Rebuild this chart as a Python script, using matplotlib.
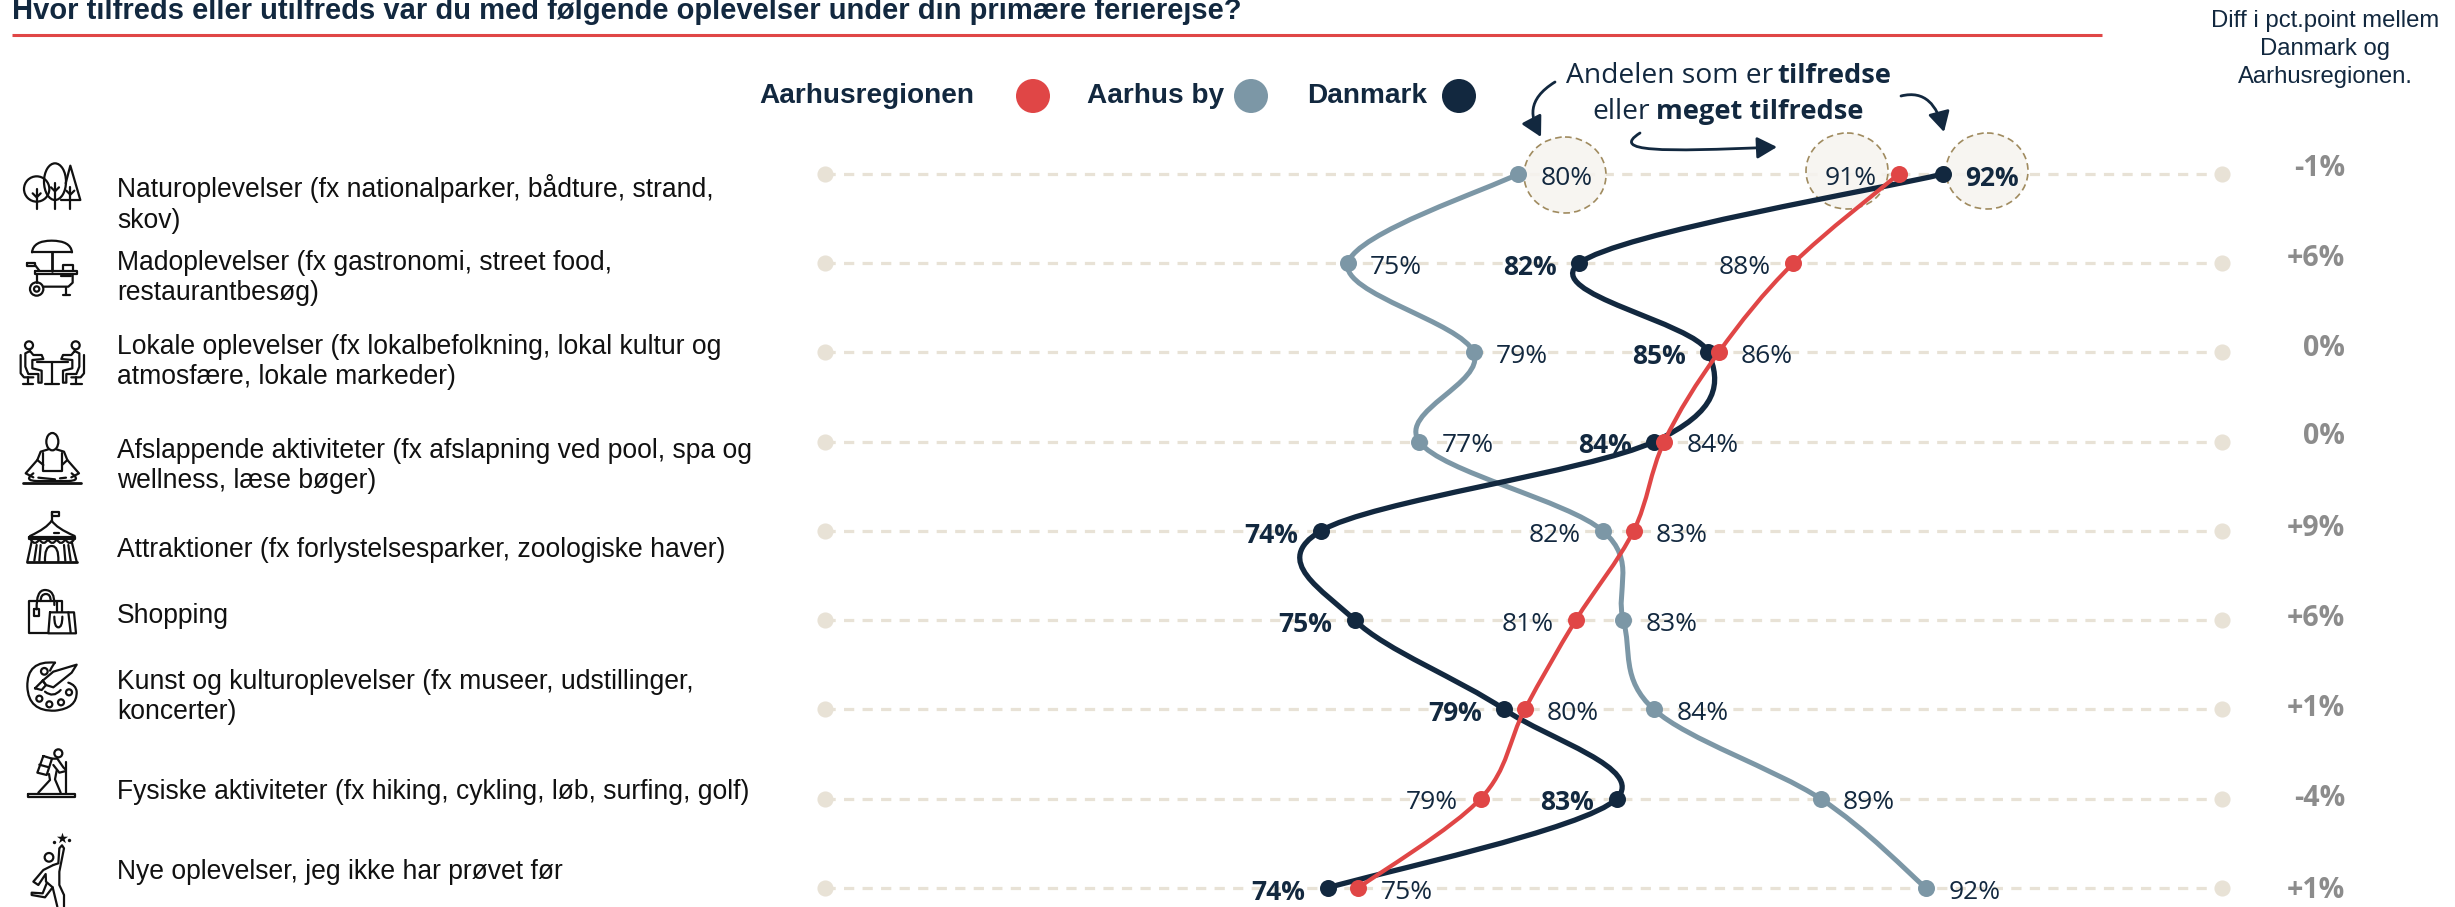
import numpy as np
import matplotlib
matplotlib.use("Agg")
import matplotlib.pyplot as plt
from matplotlib.path import Path
from matplotlib.patches import PathPatch, Ellipse, Circle, FancyArrowPatch

# -------- data --------
categories = [
    "Naturoplevelser (fx nationalparker, bådture, strand,\nskov)",
    "Madoplevelser (fx gastronomi, street food,\nrestaurantbesøg)",
    "Lokale oplevelser (fx lokalbefolkning, lokal kultur og\natmosfære, lokale markeder)",
    "Afslappende aktiviteter (fx afslapning ved pool, spa og\nwellness, læse bøger)",
    "Attraktioner (fx forlystelsesparker, zoologiske haver)",
    "Shopping",
    "Kunst og kulturoplevelser (fx museer, udstillinger,\nkoncerter)",
    "Fysiske aktiviteter (fx hiking, cykling, løb, surfing, golf)",
    "Nye oplevelser, jeg ikke har prøvet før",
]
# plotted positions, printed labels are the rounded ones in the chart
aarhus_by = [80.0, 75.0, 78.7, 77.1, 82.5, 83.1, 84.0, 88.9, 92.0]
danmark = [92.5, 81.8, 85.6, 84.0, 74.2, 75.2, 79.6, 82.9, 74.4]
region = [91.2, 88.1, 85.9, 84.3, 83.4, 81.7, 80.2, 78.9, 75.3]
aarhus_by_lab = [80, 75, 79, 77, 82, 83, 84, 89, 92]
danmark_lab = [92, 82, 85, 84, 74, 75, 79, 83, 74]
region_lab = [91, 88, 86, 84, 83, 81, 80, 79, 75]
diff_lab = ["-1%", "+6%", "0%", "0%", "+9%", "+6%", "+1%", "-4%", "+1%"]

NAVY = "#12283F"
RED = "#E04646"
BLUE = "#7C97A6"
TRACK = "#E8E2D6"
GREY = "#8C8C8C"
SANS = "Liberation Sans"
LAB = "Open Sans"

fig = plt.figure(figsize=(24.55, 9.07), dpi=100)

# overlay in pixels for the furniture and the icons
px = fig.add_axes([0, 0, 1, 1], facecolor="none")
px.set_xlim(0, 2455)
px.set_ylim(907, 0)
px.axis("off")

# chart axes: x in percent, y in row number
ax = fig.add_axes([0, 0, 1, 1], facecolor="none")
ax.set_xlim(35.356, 107.56)
ax.set_ylim(8.213, -1.9496)
ax.axis("off")


def smooth_path(xs, ys, k=0.17):
    # catmull-rom style bezier through the points
    verts = [(xs[0], ys[0])]
    codes = [Path.MOVETO]
    n = len(xs)
    for i in range(n - 1):
        a, d = max(i - 1, 0), min(i + 2, n - 1)
        verts.append((xs[i] + (xs[i + 1] - xs[a]) * k, ys[i] + (ys[i + 1] - ys[a]) * k))
        verts.append((xs[i + 1] - (xs[d] - xs[i]) * k, ys[i + 1] - (ys[d] - ys[i]) * k))
        verts.append((xs[i + 1], ys[i + 1]))
        codes += [Path.CURVE4] * 3
    return Path(verts, codes)


rows = np.arange(len(categories))

# tracks
for r in rows:
    ax.plot([59.62, 100.71], [r, r], color=TRACK, lw=2.3, dashes=(3.2, 2.6), zorder=1)
    ax.scatter([59.62, 100.71], [r, r], s=135, color=TRACK, linewidths=0, zorder=1)

# highlight circles behind the first row labels
for cx, cy in [(1565, 175), (1847, 171), (1987, 171)]:
    ax.add_patch(Ellipse((cx, cy), 82, 76, facecolor=(0.965, 0.957, 0.94, 0.88), edgecolor="#A08B5F",
                         lw=1.2, linestyle=(0, (4, 2.5)), zorder=2, transform=px.transData))

sides_by = [1, 1, 1, 1, -1, 1, 1, 1, 1]
sides_dk = [1, -1, -1, -1, -1, -1, -1, -1, -1]
sides_reg = [-1, -1, 1, 1, 1, -1, 1, -1, 1]

for vals, labs, sides, col, lw, weight, z in [
    (aarhus_by, aarhus_by_lab, sides_by, BLUE, 3.6, "normal", 5),
    (danmark, danmark_lab, sides_dk, NAVY, 3.8, "bold", 6),
    (region, region_lab, sides_reg, RED, 3.0, "normal", 7),
]:
    ax.add_patch(PathPatch(smooth_path(vals, rows), facecolor="none", edgecolor=col, lw=lw, zorder=z))
    ax.scatter(vals, rows, s=150, color=col, linewidths=0, zorder=z + 0.5)
    for v, r, lab, s in zip(vals, rows, labs, sides):
        ax.annotate(f"{lab}%", (v, r), xytext=(s * 16, -3), textcoords="offset points",
                    ha="left" if s > 0 else "right", va="center", fontsize=19, family=LAB,
                    fontweight=weight, color=NAVY, zorder=10)

# row texts
text_y = [204, 278, 362, 466, 550, 616, 697, 792, 872]
for y, lab in zip(text_y, categories):
    px.text(117, y, lab, ha="left", va="center", fontsize=19.1, family=SANS, color="#111111",
            linespacing=1.23)

# diff column
diff_y = [168, 259, 348, 437, 528, 619, 708, 799, 890]
for y, lab in zip(diff_y, diff_lab):
    px.text(2345, y, lab, ha="right", va="center", fontsize=20.5, family=LAB, fontweight="bold", color=GREY)

# title and rule
px.text(12, 19, "Hvor tilfreds eller utilfreds var du med følgende oplevelser under din primære ferierejse?",
        ha="left", va="baseline", fontsize=21, family=SANS, fontweight="bold", color=NAVY)
px.plot([12, 2102], [35, 35], color=RED, lw=2.2, solid_capstyle="butt")

px.text(2325, 49, "Diff i pct.point mellem\nDanmark og\nAarhusregionen.", ha="center", va="center",
        fontsize=17.2, family=SANS, color=NAVY, linespacing=1.34)

# legend
for x0, lab, cx, col in [(759, "Aarhusregionen", 1033, RED), (1087, "Aarhus by", 1251, BLUE), (1307, "Danmark", 1459, NAVY)]:
    px.text(x0, 96, lab, ha="left", va="center", fontsize=20.2, family=SANS, fontweight="bold", color=NAVY)
    px.add_patch(Circle((cx, 96), 17, color=col, lw=0))

# callout text
px.text(1773, 76, "Andelen som er", ha="right", va="center", fontsize=20.3, family=LAB, color=NAVY)
px.text(1777, 76, "tilfredse", ha="left", va="center", fontsize=19.6, family=LAB, fontweight="bold", color=NAVY)
px.text(1650, 112, "eller", ha="right", va="center", fontsize=20.3, family=LAB, color=NAVY)
px.text(1656, 112, "meget tilfredse", ha="left", va="center", fontsize=19.6, family=LAB, fontweight="bold", color=NAVY)

# callout arrows
arrows = [
    Path([(1555, 82), (1526, 100), (1531, 118), (1541, 137)], [Path.MOVETO, Path.CURVE4, Path.CURVE4, Path.CURVE4]),
    Path([(1640, 133), (1610, 152), (1660, 152), (1777, 147)], [Path.MOVETO, Path.CURVE4, Path.CURVE4, Path.CURVE4]),
    Path([(1901, 96), (1925, 90), (1937, 105), (1944, 132)], [Path.MOVETO, Path.CURVE4, Path.CURVE4, Path.CURVE4]),
]
for p in arrows:
    px.add_patch(FancyArrowPatch(path=p, arrowstyle="-|>,head_length=0.55,head_width=0.3", mutation_scale=22,
                                 color=NAVY, lw=2, shrinkA=0, shrinkB=0, zorder=8))


# -------- icons, coordinates as crop pixels (3x) with their crop origin --------
def line(oy, pts, closed=False, lw=1.6):
    pts = np.array(pts, float)
    x, y = pts[:, 0] / 3, oy + pts[:, 1] / 3
    if closed:
        x, y = np.r_[x, x[0]], np.r_[y, y[0]]
    px.plot(x, y, color="#111111", lw=lw, solid_capstyle="round", solid_joinstyle="round")


def ring(oy, cx, cy, rx, ry=None, lw=1.6):
    ry = rx if ry is None else ry
    px.add_patch(Ellipse((cx / 3, oy + cy / 3), 2 * rx / 3, 2 * ry / 3, fill=False, edgecolor="#111111", lw=lw))


def curve(oy, pts, lw=1.6):
    # quadratic segments: start, ctrl, end, ctrl, end ...
    pts = [(x / 3, oy + y / 3) for x, y in pts]
    codes = [Path.MOVETO] + [Path.CURVE3] * (len(pts) - 1)
    px.add_patch(PathPatch(Path(pts, codes), fill=False, edgecolor="#111111", lw=lw, capstyle="round"))


# trees
oy = 150
ring(oy, 110, 117, 38)
ring(oy, 165, 95, 33, 55)
line(oy, [(197, 100), (211, 47), (241, 150), (183, 150)])
for sx, t, b in [(110, 118, 178), (165, 100, 178), (211, 110, 178)]:
    line(oy, [(sx, t), (sx, b)])
    line(oy, [(sx - 12, t + 12), (sx, t + 24), (sx + 12, t + 12)])
# cart
curve(oy, [(96, 307), (100, 272), (155, 272), (212, 272), (216, 307)])
line(oy, [(96, 307), (216, 307)])
line(oy, [(155, 307), (155, 362)], lw=2.0)
line(oy, [(105, 362), (230, 362), (230, 372), (105, 372)], closed=True)
line(oy, [(190, 362), (190, 344), (220, 344), (220, 362)])
line(oy, [(82, 340), (105, 340), (105, 348), (82, 348)], closed=True)
line(oy, [(105, 345), (118, 362)])
line(oy, [(112, 372), (112, 398)])
line(oy, [(130, 410), (205, 410), (218, 398), (218, 372)])
ring(oy, 110, 417, 20)
ring(oy, 110, 417, 8)
line(oy, [(198, 410), (198, 435)])
line(oy, [(188, 435), (210, 435)])
line(oy, [(182, 378), (212, 378)])
# people at table
ring(oy, 87, 586, 12)
ring(oy, 227, 586, 12)
line(oy, [(110, 635), (205, 635)])
line(oy, [(157, 635), (157, 700)])
line(oy, [(135, 702), (178, 702)])
for m in (False, True):
    f = (lambda x: 314 - x) if m else (lambda x: x)
    line(oy, [(f(x), y) for x, y in [(90, 603), (76, 610), (76, 650), (85, 672), (115, 672), (115, 698), (125, 698),
                                     (125, 662), (97, 655), (97, 630), (130, 627), (125, 615), (100, 615), (90, 603)]])
    line(oy, [(f(x), y) for x, y in [(62, 615), (62, 670), (72, 682), (100, 682)]])
    line(oy, [(f(85), 682), (f(85), 702)])
    line(oy, [(f(68), 702), (f(100), 702)])
# meditation
oy = 410
ring(oy, 157, 95, 18, 26)
line(oy, [(145, 118), (122, 125), (112, 150), (77, 190), (100, 202)])
line(oy, [(169, 118), (192, 125), (202, 150), (237, 190), (214, 202)])
line(oy, [(130, 130), (130, 182), (186, 182), (186, 130)])
line(oy, [(112, 150), (130, 165)])
line(oy, [(202, 150), (186, 165)])
curve(oy, [(100, 190), (70, 212), (110, 213), (170, 213), (205, 213), (245, 212), (215, 190)])
line(oy, [(70, 218), (243, 218)], lw=2)
line(oy, [(115, 203), (165, 208)])
line(oy, [(180, 205), (198, 203)])
# tent
line(oy, [(155, 305), (155, 332)])
line(oy, [(155, 305), (176, 305), (176, 318), (155, 318)], closed=True)
curve(oy, [(90, 378), (140, 355), (155, 332), (170, 355), (224, 378)])
line(oy, [(88, 380), (225, 380), (225, 388), (88, 388)], closed=True)
for x0 in (92, 118, 144, 170, 196):
    curve(oy, [(x0, 388), (x0 + 13, 410), (x0 + 26, 388)])
line(oy, [(95, 395), (82, 455)])
line(oy, [(215, 395), (230, 455)])
line(oy, [(82, 456), (232, 456)], lw=2)
curve(oy, [(135, 455), (133, 408), (155, 408), (177, 408), (175, 455)])
line(oy, [(110, 405), (103, 452)])
line(oy, [(122, 405), (118, 452)])
line(oy, [(192, 405), (196, 452)])
line(oy, [(205, 405), (212, 452)])
line(oy, [(162, 369), (178, 369)])
# bags
line(oy, [(145, 670), (88, 670), (88, 573), (185, 573), (185, 607)])
curve(oy, [(110, 598), (108, 540), (135, 540), (165, 540), (163, 585)])
curve(oy, [(122, 573), (122, 552), (138, 552), (152, 552), (152, 573)])
line(oy, [(103, 598), (118, 598), (118, 617), (103, 617)], closed=True)
line(oy, [(150, 607), (222, 607), (228, 670), (145, 670)], closed=True)
line(oy, [(170, 575), (170, 607)])
line(oy, [(205, 607), (212, 668)])
curve(oy, [(163, 620), (163, 652), (175, 652), (187, 652), (187, 620)])
# palette
oy = 650
curve(oy, [(165, 38), (80, 30), (82, 110), (85, 185), (165, 182), (232, 175), (230, 125), (228, 105), (205, 98)])
curve(oy, [(165, 38), (160, 42), (150, 62)])
ring(oy, 133, 64, 10)
ring(oy, 207, 127, 9)
ring(oy, 183, 157, 9)
ring(oy, 148, 163, 9)
ring(oy, 118, 146, 9)
curve(oy, [(135, 125), (160, 145), (182, 120)])
line(oy, [(128, 92), (160, 65), (230, 44), (215, 68), (160, 112), (138, 105)], closed=True)
line(oy, [(105, 115), (128, 92), (138, 105), (125, 120)], closed=True)
# hiker
ring(oy, 175, 310, 12)
line(oy, [(130, 318), (156, 326), (140, 375), (112, 368)], closed=True)
line(oy, [(118, 344), (147, 352)])
line(oy, [(155, 326), (172, 326), (190, 352), (198, 360)])
line(oy, [(160, 345), (178, 368), (194, 364)])
line(oy, [(147, 372), (150, 390), (115, 428)])
line(oy, [(170, 362), (165, 388), (182, 428)])
line(oy, [(197, 335), (197, 430)])
line(oy, [(85, 432), (224, 432), (224, 441), (85, 441)], closed=True)
# reaching figure
ring(oy, 147, 622, 13)
line(oy, [(160, 645), (175, 640), (178, 595), (186, 586), (192, 595), (178, 665), (178, 705), (192, 735), (192, 770)])
line(oy, [(160, 645), (130, 660), (100, 695), (115, 705), (137, 672), (138, 695), (158, 712), (172, 770)])
line(oy, [(158, 712), (135, 742), (95, 735), (95, 728), (128, 730), (140, 700)])
px.scatter([185 / 3], [oy + 563 / 3], marker="*", s=70, color="#111111", linewidths=0)
px.scatter([163 / 3, 208 / 3], [oy + 577 / 3, oy + 571 / 3], s=6, color="#111111", linewidths=0)

px.set_xlim(0, 2455)
px.set_ylim(907, 0)

fig.savefig("out.png", dpi=100)
